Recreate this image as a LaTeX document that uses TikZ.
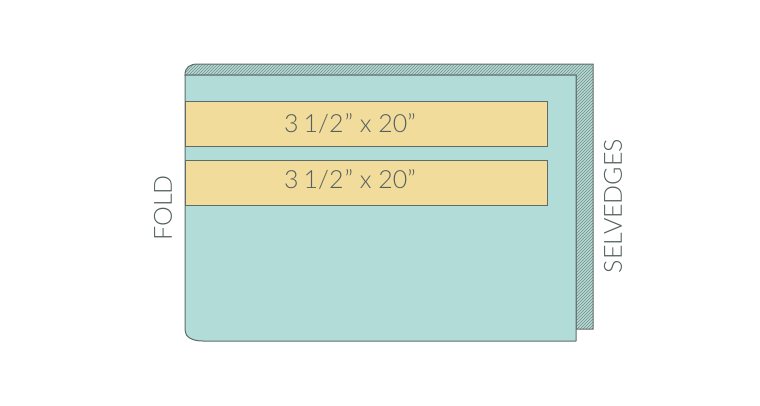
\documentclass[tikz,border=0pt]{standalone}
\usepackage{fontspec}
\setmainfont{Lato}[UprightFont={* Light}]
\usetikzlibrary{patterns}
\definecolor{fabric}{HTML}{B2DCD7}
\definecolor{stripfill}{HTML}{F2DC9C}
\definecolor{edge}{HTML}{5E6B69}
\tikzset{
  layer/.style={draw=edge, line width=1pt, fill=fabric, line join=round},
  hatch/.style={draw=edge, line width=1pt, preaction={fill=fabric}, pattern=north east lines, pattern color=edge!80},
  stripbox/.style={draw=edge, line width=1pt, fill=stripfill},
  dim/.style={font=\fontsize{25}{25}\selectfont, text=edge!90!black, inner sep=0pt},
  side/.style={font=\fontsize{25}{25}\selectfont, text=edge!90!black, inner sep=0pt, rotate=90}
}
\begin{document}
\begin{tikzpicture}[x=1pt,y=-1pt]
\useasboundingbox (0,0) rectangle (760,405);
% back layer (selvedges)
\path[hatch] (185,75) .. controls (185,67) and (190,64) .. (198,64) -- (593,64) -- (593,329) -- (576,329) -- (576,75) -- cycle;
% front layer
\path[layer] (185,75) -- (576,75) -- (576,341) -- (203,341) .. controls (192,341) and (185,337) .. (185,330) -- cycle;
% strips
\node[stripbox, minimum width=362pt, minimum height=45pt, anchor=north west, inner sep=0pt] (s1) at (185,101) {};
\node[stripbox, minimum width=362pt, minimum height=45pt, anchor=north west, inner sep=0pt] (s2) at (185,160) {};
\node[dim] (t1) at (350,124) {3\kern5pt1/2\kern1pt" x 20"};
\node[dim] (t2) at (350,180) {3\kern5pt1/2\kern1pt" x 20"};
\node[side] (fold) at (163,208) {FOLD};
\node[side] (selv) at (613,206) {SELVEDGES};
\end{tikzpicture}
\end{document}
